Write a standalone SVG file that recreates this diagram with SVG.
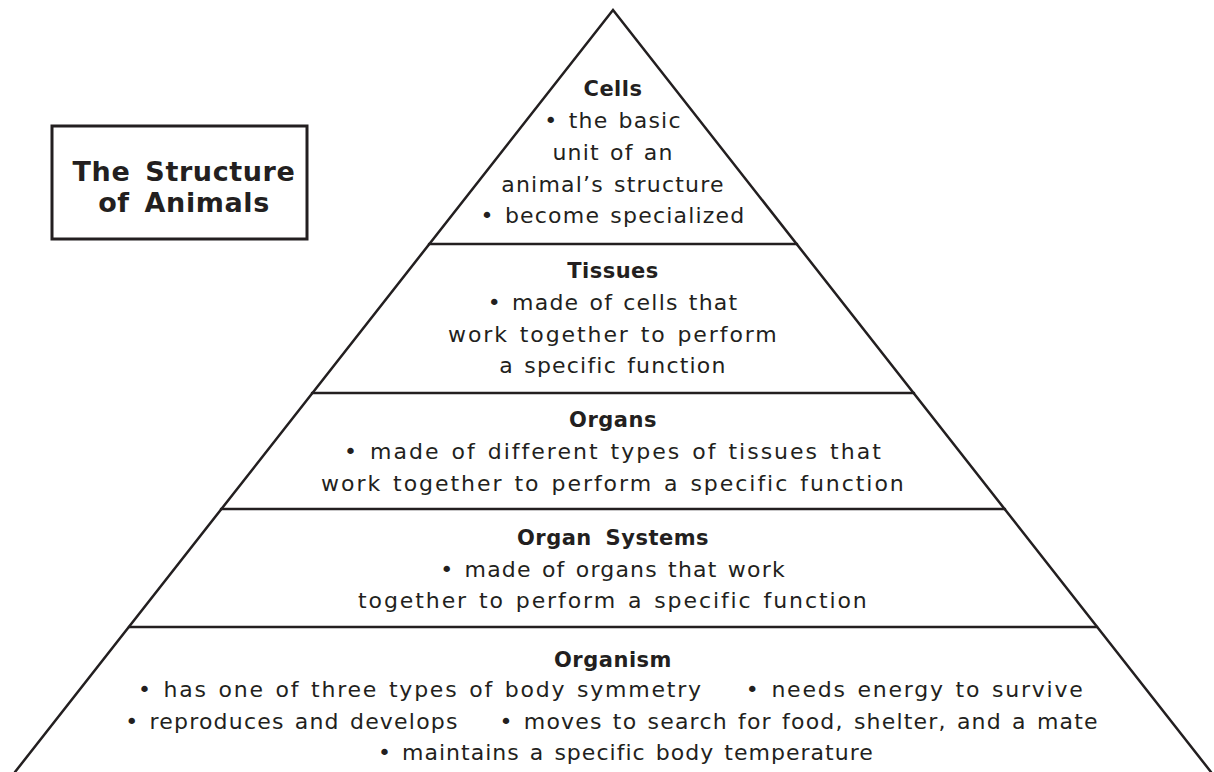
<svg xmlns="http://www.w3.org/2000/svg" width="1214" height="772" viewBox="0 0 1214 772">
<style>
.ln{stroke:#231f20;stroke-width:2.5;fill:none;stroke-linecap:round;stroke-linejoin:miter}
.t{font-family:"DejaVu Sans","Liberation Sans",sans-serif;font-size:22px;letter-spacing:1.2px;word-spacing:2px;fill:#231f20;text-anchor:middle}
.h{font-weight:bold;font-size:21px;letter-spacing:0.5px;word-spacing:6px}
.title{font-family:"DejaVu Sans","Liberation Sans",sans-serif;font-size:27px;letter-spacing:0.6px;word-spacing:5px;font-weight:bold;fill:#231f20;text-anchor:middle}
</style>
<rect width="1214" height="772" fill="#fff"/>
<g id="title">
<rect x="52" y="126" width="255" height="113" fill="#fff" stroke="#231f20" stroke-width="3"/>
<text class="title" x="184" y="181">The Structure</text>
<text class="title" x="184" y="212">of Animals</text>
</g>
<g id="connectors">
<polyline class="ln" points="15,772 613,10 1211,772"/>
<line class="ln" x1="429" y1="244" x2="797" y2="244"/>
<line class="ln" x1="312" y1="393" x2="914" y2="393"/>
<line class="ln" x1="221" y1="509" x2="1005" y2="509"/>
<line class="ln" x1="129" y1="627" x2="1097" y2="627"/>
</g>
<g id="cells">
<text class="t h" x="613" y="96">Cells</text>
<text class="t" x="613" y="128">• the basic</text>
<text class="t" x="613" y="160">unit of an</text>
<text class="t" x="613" y="192">animal’s structure</text>
<text class="t" x="613" y="223">• become specialized</text>
</g>
<g id="tissues">
<text class="t h" x="613" y="278">Tissues</text>
<text class="t" x="613" y="310">• made of cells that</text>
<text class="t" x="613" y="342" textLength="330" lengthAdjust="spacing">work together to perform</text>
<text class="t" x="613" y="373">a specific function</text>
</g>
<g id="organs">
<text class="t h" x="613" y="427">Organs</text>
<text class="t" x="613" y="459" textLength="538" lengthAdjust="spacing">• made of different types of tissues that</text>
<text class="t" x="613" y="491" textLength="584" lengthAdjust="spacing">work together to perform a specific function</text>
</g>
<g id="organ-systems">
<text class="t h" x="613" y="545">Organ Systems</text>
<text class="t" x="613" y="577">• made of organs that work</text>
<text class="t" x="613" y="608" textLength="510" lengthAdjust="spacing">together to perform a specific function</text>
</g>
<g id="organism">
<text class="t h" x="613" y="667">Organism</text>
<text class="t" x="611" y="697" textLength="946" lengthAdjust="spacing" xml:space="preserve">• has one of three types of body symmetry    • needs energy to survive</text>
<text class="t" x="612" y="729" xml:space="preserve">• reproduces and develops    • moves to search for food, shelter, and a mate</text>
<text class="t" x="626" y="760" textLength="496" lengthAdjust="spacing">• maintains a specific body temperature</text>
</g>
</svg>
